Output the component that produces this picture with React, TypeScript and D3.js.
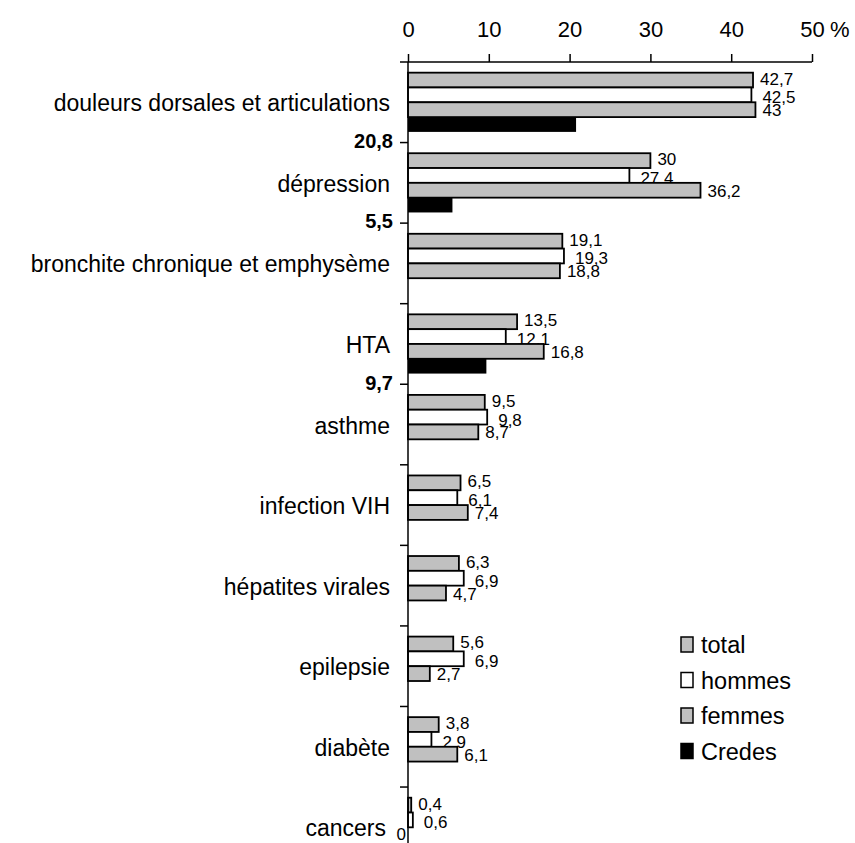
import { useEffect, useRef } from 'react'
import * as d3 from 'd3'

const categories = [
  'douleurs dorsales et articulations',
  'dépression',
  'bronchite chronique et emphysème',
  'HTA',
  'asthme',
  'infection VIH',
  'hépatites virales',
  'epilepsie',
  'diabète',
  'cancers',
]
const seriesNames = ['total', 'hommes', 'femmes', 'Credes']
const total = [42.7, 30, 19.1, 13.5, 9.5, 6.5, 6.3, 5.6, 3.8, 0.4]
const hommes = [42.5, 27.4, 19.3, 12.1, 9.8, 6.1, 6.9, 6.9, 2.9, 0.6]
const femmes = [43, 36.2, 18.8, 16.8, 8.7, 7.4, 4.7, 2.7, 6.1, 0]
const credes: (number | null)[] = [20.8, 5.5, null, 9.7, null, null, null, null, null, null]
const xTicks = [0, 10, 20, 30, 40, 50]

const fills: Record<string, string> = { total: '#c0c0c0', hommes: '#ffffff', femmes: '#c0c0c0', Credes: '#000000' }
const FONT = '"Liberation Sans", Arial, sans-serif'
const fmt = (v: number) => String(v).replace('.', ',')

export default function App() {
  const svgRef = useRef<SVGSVGElement>(null)
  const width = 855
  const height = 843

  useEffect(() => {
    if (!svgRef.current) return
    const svg = d3.select(svgRef.current)
    svg.selectAll('*').remove()

    const x = d3.scaleLinear().domain([0, 50]).range([408, 812])
    const y = d3.scaleBand<string>().domain(categories).range([62, 62 + 80.56 * categories.length]).padding(0)
    const ys = d3.scaleBand<string>().domain(seriesNames).range([0, y.bandwidth()]).paddingInner(0).paddingOuter(0.72)

    const rows = categories.map((c, i) => ({
      cat: c,
      values: [
        { s: 'total', v: total[i] as number | null },
        { s: 'hommes', v: hommes[i] as number | null },
        { s: 'femmes', v: femmes[i] as number | null },
        { s: 'Credes', v: credes[i] },
      ],
    }))

    // bars + value labels
    const g = svg.append('g')
    rows.forEach(r => {
      const y0 = y(r.cat)!
      r.values.forEach(d => {
        if (d.v == null) return
        const by = y0 + ys(d.s)!
        g.append('rect')
          .attr('x', x(0)).attr('y', by)
          .attr('width', x(d.v) - x(0)).attr('height', ys.bandwidth())
          .attr('fill', fills[d.s])
          .attr('stroke', '#000').attr('stroke-width', d.s === 'Credes' ? 0 : 1.8)
        if (d.s === 'Credes') {
          // Credes values shown in bold left of the axis
          g.append('text')
            .attr('x', 393).attr('y', by + ys.bandwidth() + 9)
            .attr('text-anchor', 'end').attr('dominant-baseline', 'central')
            .attr('font-family', FONT).attr('font-size', 20).attr('font-weight', 'bold')
            .text(fmt(d.v))
        } else {
          const zero = d.v === 0
          const dx = d.s === 'hommes' ? 11 : 7
          const dy = d.s === 'hommes' ? 3 : d.s === 'total' ? -1 : 1
          g.append('text')
            .attr('x', zero ? x(0) - 2 : x(d.v) + dx)
            .attr('y', by + ys.bandwidth() / 2 + (zero ? 0 : dy))
            .attr('text-anchor', zero ? 'end' : 'start').attr('dominant-baseline', 'central')
            .attr('font-family', FONT).attr('font-size', 17)
            .text(fmt(d.v))
        }
      })
    })

    // category labels
    svg.append('g').selectAll('text').data(categories).join('text')
      .attr('x', c => (c === 'cancers' ? 386 : 390)).attr('y', c => y(c)! + y.bandwidth() / 2 + 1)
      .attr('text-anchor', 'end').attr('dominant-baseline', 'central')
      .attr('font-family', FONT).attr('font-size', 23)
      .text(c => c)

    // top axis
    const ax = svg.append('g').attr('transform', 'translate(0,62)')
      .call(d3.axisTop(x).tickValues(xTicks).tickSize(8).tickSizeOuter(0).tickPadding(17).tickFormat(d => String(d)))
    ax.select('.domain').remove()
    ax.selectAll('line').attr('stroke', '#000').attr('stroke-width', 1.5)
    ax.selectAll('text').attr('font-family', FONT).attr('font-size', 22).attr('fill', '#000')
    svg.append('text')
      .attr('x', x(50) + 18).attr('y', 37)
      .attr('font-family', FONT).attr('font-size', 22)
      .text('%')
    svg.append('line')
      .attr('x1', 400).attr('x2', x(50)).attr('y1', 62).attr('y2', 62)
      .attr('stroke', '#000').attr('stroke-width', 1.5)

    // left axis
    svg.append('line')
      .attr('x1', x(0)).attr('x2', x(0)).attr('y1', 62).attr('y2', height)
      .attr('stroke', '#000').attr('stroke-width', 1.5)
    svg.append('g').selectAll('line').data(categories.slice(1)).join('line')
      .attr('x1', 400).attr('x2', x(0))
      .attr('y1', c => y(c)!).attr('y2', c => y(c)!)
      .attr('stroke', '#000').attr('stroke-width', 1.5)

    // legend
    const lg = svg.append('g').attr('transform', 'translate(681,637)')
    seriesNames.forEach((s, i) => {
      lg.append('rect')
        .attr('x', 0).attr('y', i * 35.5).attr('width', 12).attr('height', 15)
        .attr('fill', fills[s]).attr('stroke', '#000').attr('stroke-width', 1.5)
      lg.append('text')
        .attr('x', 20).attr('y', i * 35.5 + 8)
        .attr('dominant-baseline', 'central')
        .attr('font-family', FONT).attr('font-size', 23.5)
        .text(s)
    })
  }, [])

  return (
    <svg
      ref={svgRef}
      width={width}
      height={height}
      style={{ position: 'absolute', left: 0, top: 0, background: '#fff' }}
    />
  )
}
